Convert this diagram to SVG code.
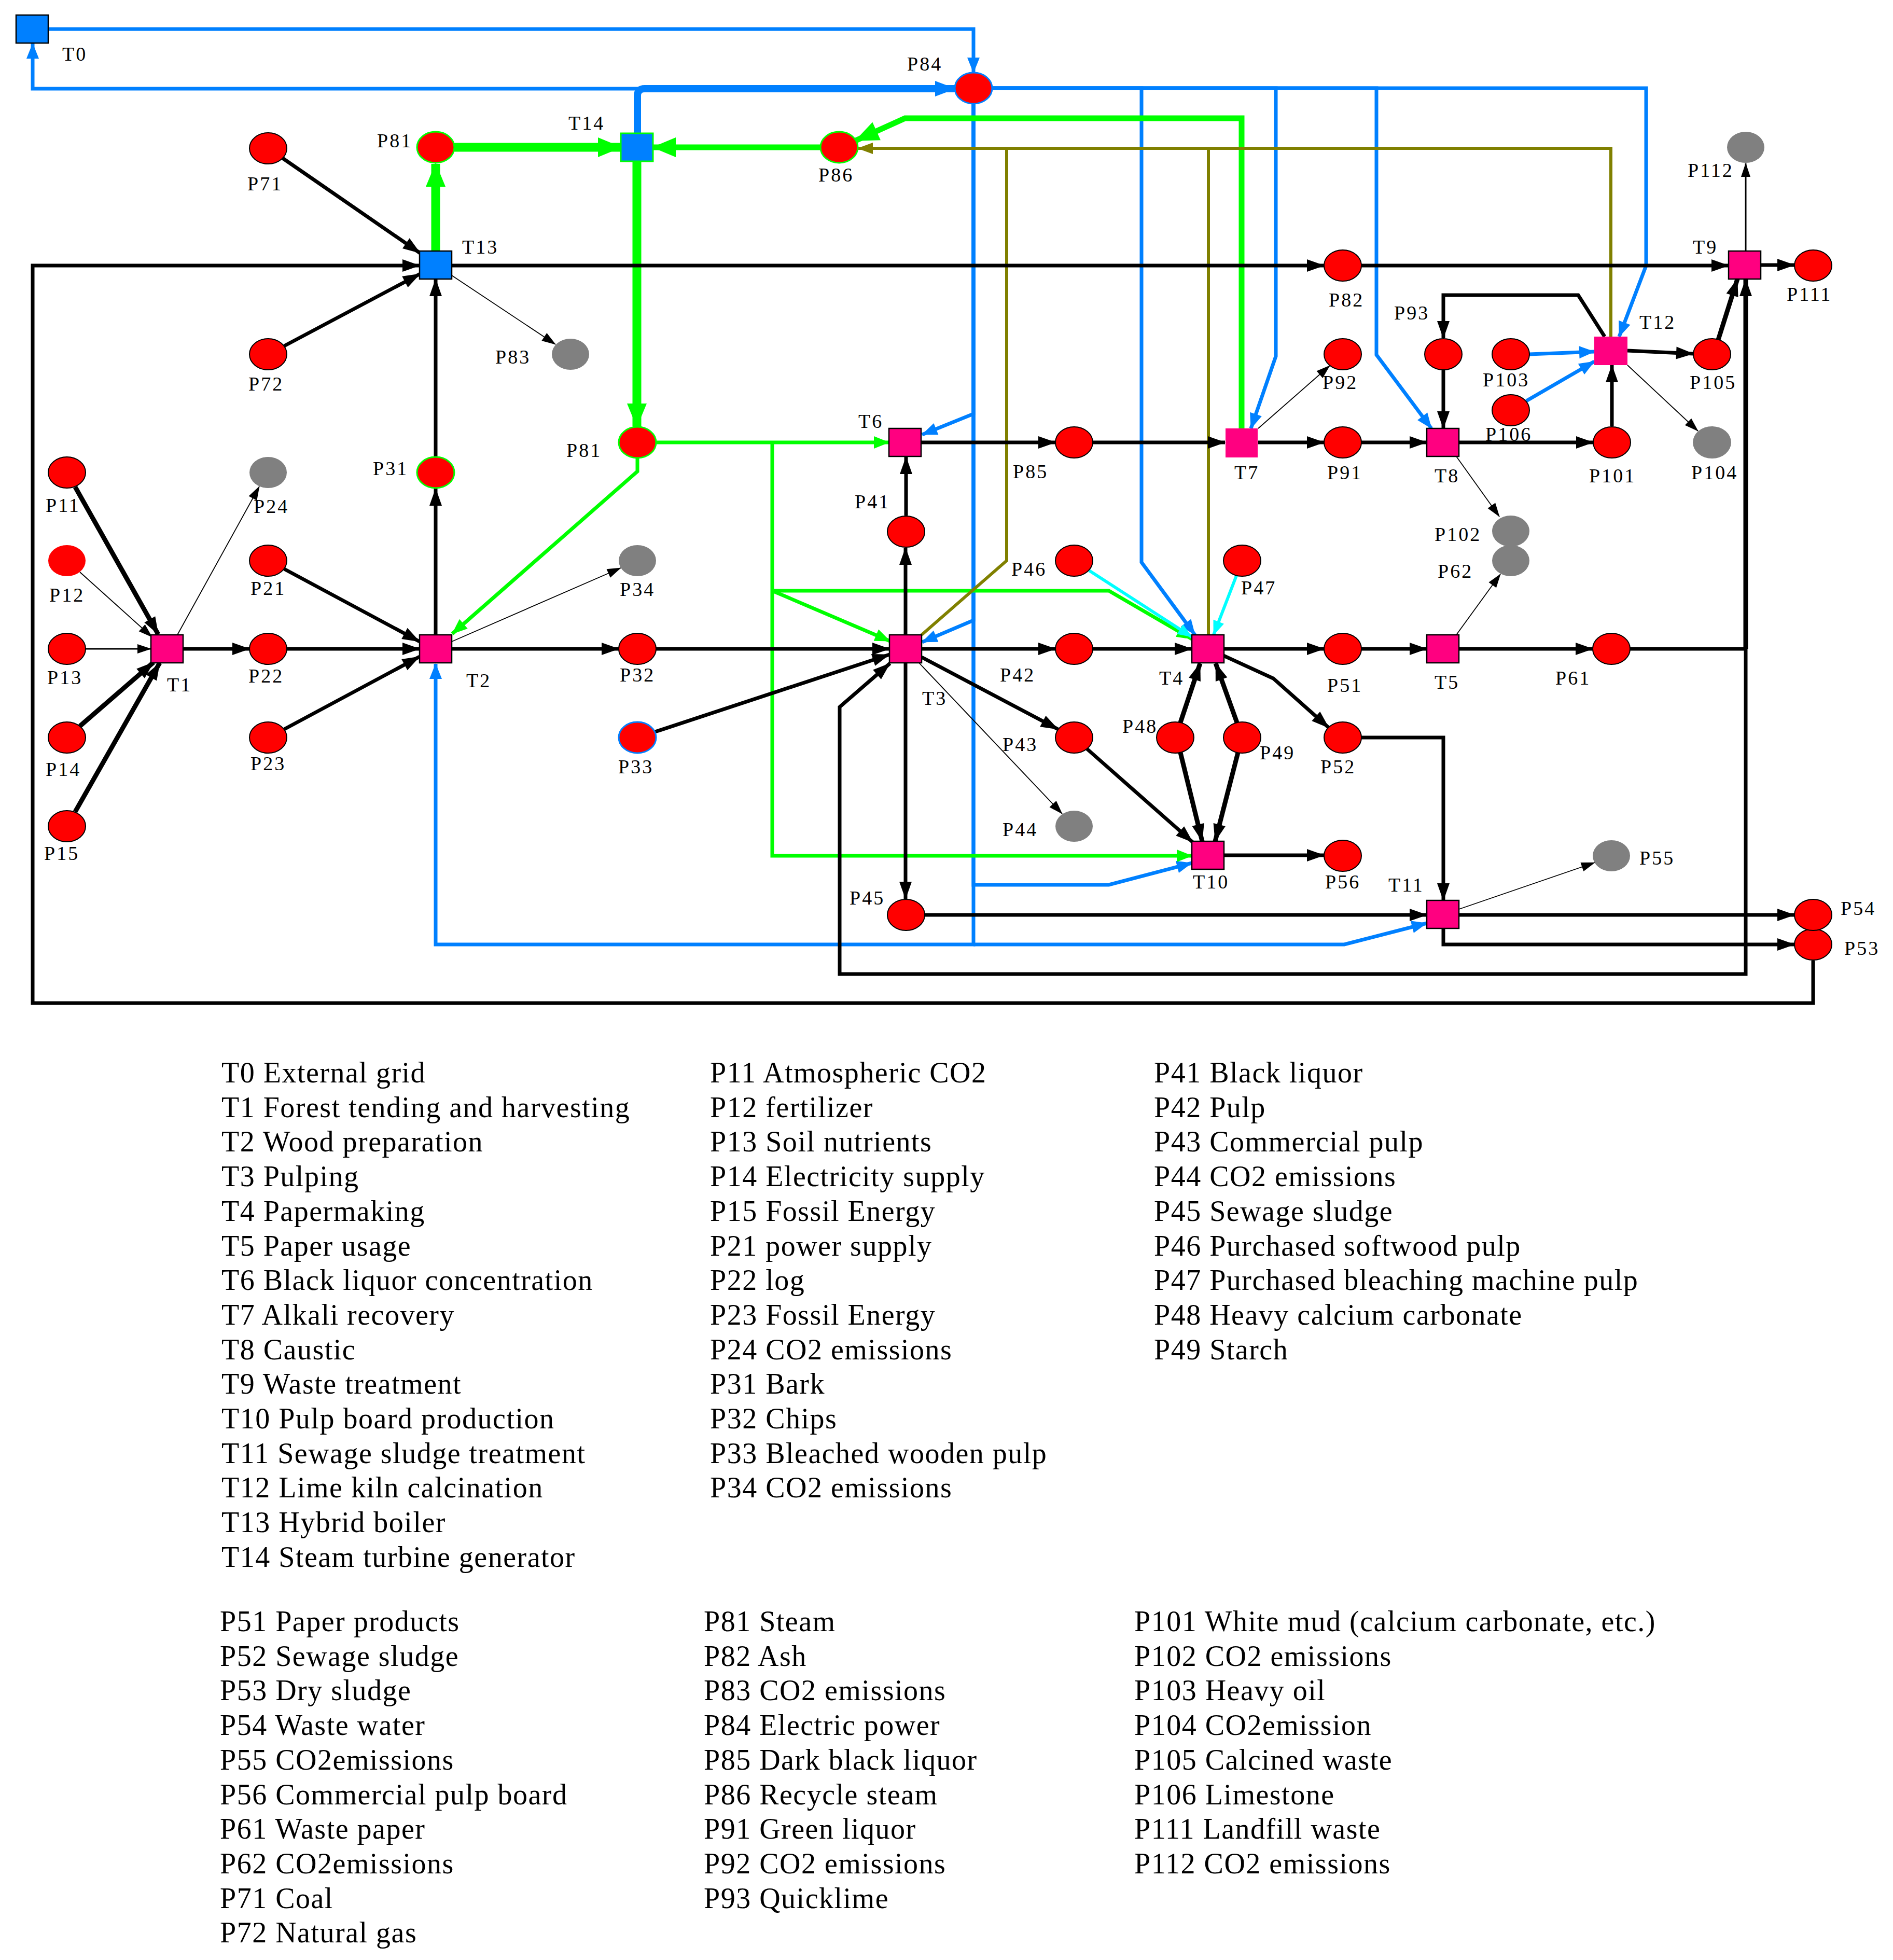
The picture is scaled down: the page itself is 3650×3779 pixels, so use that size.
<svg xmlns="http://www.w3.org/2000/svg" width="3650" height="3779" viewBox="0 0 3650 3779">
<style>
path{fill:none}
.k{stroke:#000;stroke-width:7}
.kT{stroke:#000;stroke-width:9}
.kt{stroke:#000;stroke-width:3}
.kth{stroke:#000;stroke-width:1.8}
.b{stroke:#0080FF;stroke-width:7}
.bT{stroke:#0080FF;stroke-width:14}
.g{stroke:#00FF00;stroke-width:7}
.gM{stroke:#00FF00;stroke-width:11}
.gT{stroke:#00FF00;stroke-width:17}
.o{stroke:#808000;stroke-width:6}
.c{stroke:#00FFFF;stroke-width:6}
.fk{fill:#000}.fb{fill:#0080FF}.fg{fill:#00FF00}.fo{fill:#808000}.fc{fill:#00FFFF}
.pl{fill:#FF0000;stroke:#000;stroke-width:2}
.gr{fill:#808080}
.tr{fill:#FF0080;stroke:#000;stroke-width:2.5}
.tn{fill:#FF0080}
.tb{fill:#0080FF;stroke:#000;stroke-width:2.5}
.lb{font-family:"Liberation Serif",serif;font-size:38px;letter-spacing:3px;fill:#000}
.lg{font-family:"Liberation Serif",serif;font-size:56px;letter-spacing:1.5px;fill:#000}
</style>
<defs>
<marker id="mk" markerUnits="userSpaceOnUse" markerWidth="36" markerHeight="26" refX="33" refY="12" orient="auto" overflow="visible"><path class="fk" d="M0,0 L34,12 L0,24 z"/></marker>
<marker id="ms" markerUnits="userSpaceOnUse" markerWidth="28" markerHeight="20" refX="26" refY="9" orient="auto" overflow="visible"><path class="fk" d="M0,0 L27,9 L0,18 z"/></marker>
<marker id="mb" markerUnits="userSpaceOnUse" markerWidth="32" markerHeight="26" refX="29" refY="12" orient="auto" overflow="visible"><path class="fb" d="M0,0 L30,12 L0,24 z"/></marker>
<marker id="mbT" markerUnits="userSpaceOnUse" markerWidth="42" markerHeight="32" refX="38" refY="15" orient="auto" overflow="visible"><path class="fb" d="M0,0 L40,15 L0,30 z"/></marker>
<marker id="mg" markerUnits="userSpaceOnUse" markerWidth="32" markerHeight="26" refX="29" refY="12" orient="auto" overflow="visible"><path class="fg" d="M0,0 L30,12 L0,24 z"/></marker>
<marker id="mgT" markerUnits="userSpaceOnUse" markerWidth="48" markerHeight="40" refX="44" refY="19" orient="auto" overflow="visible"><path class="fg" d="M0,0 L46,19 L0,38 z"/></marker>
<marker id="mo" markerUnits="userSpaceOnUse" markerWidth="32" markerHeight="24" refX="29" refY="11" orient="auto" overflow="visible"><path class="fo" d="M0,0 L30,11 L0,22 z"/></marker>
<marker id="mc" markerUnits="userSpaceOnUse" markerWidth="30" markerHeight="24" refX="27" refY="11" orient="auto" overflow="visible"><path class="fc" d="M0,0 L28,11 L0,22 z"/></marker>
</defs>
<rect width="3650" height="3779" fill="#fff"/>
<g id="connectors">
<path class="b" d="M93,56 H1877 V140" marker-end="url(#mb)"/>
<path class="b" d="M1841,171 H63 V84" marker-end="url(#mb)"/>
<path class="bT" d="M1229,257 V185 Q1229,171 1243,171 H1841" marker-end="url(#mbT)"/>
<path class="b" d="M1877,201 V798 L1778,838" marker-end="url(#mb)"/>
<path class="b" d="M1877,201 V1196 L1778,1238" marker-end="url(#mb)"/>
<path class="b" d="M1877,201 V1706 H2138 L2298,1664" marker-end="url(#mb)"/>
<path class="b" d="M1877,201 V1821 H840 V1280" marker-end="url(#mb)"/>
<path class="b" d="M1877,1821 H2592 L2751,1780" marker-end="url(#mb)"/>
<path class="b" d="M1913,170 H2201 V1084 L2304,1224" marker-end="url(#mb)"/>
<path class="b" d="M1913,170 H2460 V687 L2412,826" marker-end="url(#mb)"/>
<path class="b" d="M1913,170 H2654 V684 L2760,826" marker-end="url(#mb)"/>
<path class="b" d="M1913,170 H3174 V512 L3122,649" marker-end="url(#mb)"/>
<path class="b" d="M2949,683 L3074,678" marker-end="url(#mb)"/>
<path class="b" d="M2943,773 L3074,697" marker-end="url(#mb)"/>
<path class="gT" d="M840,484 V316" marker-end="url(#mgT)"/>
<path class="gT" d="M876,284 H1197" marker-end="url(#mgT)"/>
<path class="gM" d="M1582,284 H1259" marker-end="url(#mgT)"/>
<path class="gT" d="M1228,311 V822" marker-end="url(#mgT)"/>
<path class="g" d="M1265,853 H1714" marker-end="url(#mg)"/>
<path class="g" d="M1229,883 V909 L872,1222" marker-end="url(#mg)"/>
<path class="g" d="M1489,853 V1650 H2298" marker-end="url(#mg)"/>
<path class="g" d="M1489,1139 L1716,1236" marker-end="url(#mg)"/>
<path class="g" d="M1489,1139 H2138 L2298,1232" marker-end="url(#mg)"/>
<path class="gM" d="M2394,826 V228 H1745 L1650,271" marker-end="url(#mgT)"/>
<path class="o" d="M3106,649 V286 H1654" marker-end="url(#mo)"/>
<path class="o" d="M1777,1224 L1941,1081 V286"/>
<path class="o" d="M2330,1224 V286"/>
<path class="c" d="M2100,1100 L2298,1228" marker-end="url(#mc)"/>
<path class="c" d="M2384,1110 L2340,1224" marker-end="url(#mc)"/>
<path class="k" d="M545,305 L810,488" marker-end="url(#mk)"/>
<path class="k" d="M548,667 L810,528" marker-end="url(#mk)"/>
<path class="k" d="M3496,1852 V1934 H63 V512 H809" marker-end="url(#mk)"/>
<path class="k" d="M871,512 H2553" marker-end="url(#mk)"/>
<path class="k" d="M2625,512 H3333" marker-end="url(#mk)"/>
<path class="kth" d="M871,531 L1071,664" marker-end="url(#ms)"/>
<path class="k" d="M840,1224 V942" marker-end="url(#mk)"/>
<path class="k" d="M840,880 V538" marker-end="url(#mk)"/>
<path class="kT" d="M145,939 L305,1223" marker-end="url(#mk)"/>
<path class="kth" d="M154,1103 L293,1228" marker-end="url(#ms)"/>
<path class="kt" d="M165,1251 H291" marker-end="url(#ms)"/>
<path class="kT" d="M154,1400 L296,1277" marker-end="url(#mk)"/>
<path class="kT" d="M145,1565 L308,1278" marker-end="url(#mk)"/>
<path class="kth" d="M342,1224 L500,938" marker-end="url(#ms)"/>
<path class="k" d="M353,1251 H481" marker-end="url(#mk)"/>
<path class="k" d="M553,1251 H809" marker-end="url(#mk)"/>
<path class="k" d="M548,1097 L809,1237" marker-end="url(#mk)"/>
<path class="k" d="M548,1406 L809,1266" marker-end="url(#mk)"/>
<path class="kth" d="M871,1237 L1197,1095" marker-end="url(#ms)"/>
<path class="k" d="M871,1251 H1193" marker-end="url(#mk)"/>
<path class="k" d="M1265,1251 H1715" marker-end="url(#mk)"/>
<path class="k" d="M1263,1411 L1715,1262" marker-end="url(#mk)"/>
<path class="k" d="M3143,1251 H3366 V1878 H1619 V1363 L1716,1279" marker-end="url(#mk)"/>
<path class="kT" d="M3366,1251 V538" marker-end="url(#mk)"/>
<path class="k" d="M1746,1224 V1056" marker-end="url(#mk)"/>
<path class="k" d="M1747,994 V881" marker-end="url(#mk)"/>
<path class="k" d="M1777,1251 H2035" marker-end="url(#mk)"/>
<path class="k" d="M2107,1251 H2298" marker-end="url(#mk)"/>
<path class="k" d="M1777,1267 L2040,1406" marker-end="url(#mk)"/>
<path class="kth" d="M1772,1278 L2048,1569" marker-end="url(#ms)"/>
<path class="k" d="M1746,1278 V1733" marker-end="url(#mk)"/>
<path class="k" d="M1783,1764 H2751" marker-end="url(#mk)"/>
<path class="k" d="M2096,1444 L2300,1624" marker-end="url(#mk)"/>
<path class="kT" d="M2276,1393 L2314,1279" marker-end="url(#mk)"/>
<path class="kT" d="M2385,1393 L2344,1279" marker-end="url(#mk)"/>
<path class="kT" d="M2276,1451 L2318,1622" marker-end="url(#mk)"/>
<path class="kT" d="M2387,1451 L2343,1622" marker-end="url(#mk)"/>
<path class="k" d="M2359,1251 H2553" marker-end="url(#mk)"/>
<path class="k" d="M2625,1251 H2751" marker-end="url(#mk)"/>
<path class="k" d="M2813,1251 H3071" marker-end="url(#mk)"/>
<path class="k" d="M2359,1264 L2455,1308 L2562,1403" marker-end="url(#mk)"/>
<path class="k" d="M2625,1422 H2783 V1736" marker-end="url(#mk)"/>
<path class="k" d="M2359,1649 H2553" marker-end="url(#mk)"/>
<path class="kth" d="M2813,1753 L3075,1663" marker-end="url(#ms)"/>
<path class="k" d="M2813,1764 H3460" marker-end="url(#mk)"/>
<path class="k" d="M2783,1789 V1821 H3460" marker-end="url(#mk)"/>
<path class="kth" d="M2808,1224 L2893,1107" marker-end="url(#ms)"/>
<path class="kth" d="M2808,880 L2891,996" marker-end="url(#ms)"/>
<path class="k" d="M1777,853 H2035" marker-end="url(#mk)"/>
<path class="k" d="M2107,853 H2362" marker-end="url(#mk)"/>
<path class="k" d="M2426,853 H2553" marker-end="url(#mk)"/>
<path class="k" d="M2625,853 H2751" marker-end="url(#mk)"/>
<path class="kth" d="M2426,826 L2564,705" marker-end="url(#ms)"/>
<path class="k" d="M3094,649 L3043,569 H2783 V652" marker-end="url(#mk)"/>
<path class="k" d="M2783,714 V826" marker-end="url(#mk)"/>
<path class="k" d="M2813,853 H3072" marker-end="url(#mk)"/>
<path class="k" d="M3108,822 V704" marker-end="url(#mk)"/>
<path class="k" d="M3138,676 L3265,682" marker-end="url(#mk)"/>
<path class="kT" d="M3313,655 L3350,538" marker-end="url(#mk)"/>
<path class="k" d="M3395,511 H3460" marker-end="url(#mk)"/>
<path class="kt" d="M3366,484 V315" marker-end="url(#ms)"/>
<path class="kth" d="M3138,704 L3274,831" marker-end="url(#ms)"/>
</g>
<g id="T0"><rect class="tb" x="31" y="29" width="62" height="54"/><text class="lb" x="120" y="117">T0</text></g>
<g id="T1"><rect class="tr" x="291" y="1224" width="62" height="54"/><text class="lb" x="322" y="1333">T1</text></g>
<g id="T2"><rect class="tr" x="809" y="1224" width="62" height="54"/><text class="lb" x="899" y="1325">T2</text></g>
<g id="T3"><rect class="tr" x="1715" y="1224" width="62" height="54"/><text class="lb" x="1778" y="1359">T3</text></g>
<g id="T4"><rect class="tr" x="2298" y="1224" width="62" height="54"/><text class="lb" x="2235" y="1320">T4</text></g>
<g id="T5"><rect class="tr" x="2751" y="1224" width="62" height="54"/><text class="lb" x="2766" y="1328">T5</text></g>
<g id="T6"><rect class="tr" x="1714" y="826" width="62" height="54"/><text class="lb" x="1655" y="825">T6</text></g>
<g id="T7"><rect class="tn" x="2363" y="826" width="62" height="56"/><text class="lb" x="2380" y="924">T7</text></g>
<g id="T8"><rect class="tr" x="2751" y="826" width="62" height="54"/><text class="lb" x="2766" y="930">T8</text></g>
<g id="T9"><rect class="tr" x="3333" y="484" width="62" height="54"/><text class="lb" x="3264" y="489">T9</text></g>
<g id="T10"><rect class="tr" x="2298" y="1622" width="62" height="54"/><text class="lb" x="2300" y="1713">T10</text></g>
<g id="T11"><rect class="tr" x="2751" y="1736" width="62" height="54"/><text class="lb" x="2677" y="1719">T11</text></g>
<g id="T12"><rect class="tn" x="3074" y="649" width="64" height="55"/><text class="lb" x="3161" y="634">T12</text></g>
<g id="T13"><rect class="tb" x="809" y="484" width="62" height="54"/><text class="lb" x="891" y="489">T13</text></g>
<g id="T14"><rect x="1197" y="257" width="62" height="54" fill="#0080FF" stroke="#00FF00" stroke-width="3"/><text class="lb" x="1096" y="250">T14</text></g>
<g id="P11"><ellipse class="pl" cx="129" cy="911" rx="36" ry="30"/><text class="lb" x="88" y="987">P11</text></g>
<g id="P12"><ellipse cx="129" cy="1081" rx="36" ry="30" fill="#FF0000"/><text class="lb" x="95" y="1160">P12</text></g>
<g id="P13"><ellipse class="pl" cx="129" cy="1251" rx="36" ry="30"/><text class="lb" x="91" y="1319">P13</text></g>
<g id="P14"><ellipse class="pl" cx="129" cy="1422" rx="36" ry="30"/><text class="lb" x="88" y="1496">P14</text></g>
<g id="P15"><ellipse class="pl" cx="129" cy="1593" rx="36" ry="30"/><text class="lb" x="85" y="1658">P15</text></g>
<g id="P21"><ellipse class="pl" cx="517" cy="1081" rx="36" ry="30"/><text class="lb" x="483" y="1147">P21</text></g>
<g id="P22"><ellipse class="pl" cx="517" cy="1251" rx="36" ry="30"/><text class="lb" x="479" y="1316">P22</text></g>
<g id="P23"><ellipse class="pl" cx="517" cy="1422" rx="36" ry="30"/><text class="lb" x="483" y="1485">P23</text></g>
<g id="P24"><ellipse class="gr" cx="517" cy="911" rx="36" ry="30"/><text class="lb" x="489" y="989">P24</text></g>
<g id="P31"><ellipse cx="840" cy="911" rx="36" ry="30" fill="#FF0000" stroke="#00FF00" stroke-width="3"/><text class="lb" x="719" y="916">P31</text></g>
<g id="P32"><ellipse class="pl" cx="1229" cy="1251" rx="36" ry="30"/><text class="lb" x="1195" y="1314">P32</text></g>
<g id="P33"><ellipse cx="1229" cy="1422" rx="36" ry="30" fill="#FF0000" stroke="#0080FF" stroke-width="3"/><text class="lb" x="1192" y="1491">P33</text></g>
<g id="P34"><ellipse class="gr" cx="1229" cy="1081" rx="36" ry="30"/><text class="lb" x="1195" y="1149">P34</text></g>
<g id="P41"><ellipse class="pl" cx="1747" cy="1025" rx="36" ry="30"/><text class="lb" x="1648" y="980">P41</text></g>
<g id="P42"><ellipse class="pl" cx="2071" cy="1251" rx="36" ry="30"/><text class="lb" x="1928" y="1314">P42</text></g>
<g id="P43"><ellipse class="pl" cx="2071" cy="1422" rx="36" ry="30"/><text class="lb" x="1933" y="1448">P43</text></g>
<g id="P44"><ellipse class="gr" cx="2071" cy="1593" rx="36" ry="30"/><text class="lb" x="1933" y="1612">P44</text></g>
<g id="P45"><ellipse class="pl" cx="1747" cy="1764" rx="36" ry="30"/><text class="lb" x="1638" y="1744">P45</text></g>
<g id="P46"><ellipse class="pl" cx="2071" cy="1081" rx="36" ry="30"/><text class="lb" x="1950" y="1110">P46</text></g>
<g id="P47"><ellipse class="pl" cx="2395" cy="1081" rx="36" ry="30"/><text class="lb" x="2393" y="1146">P47</text></g>
<g id="P48"><ellipse class="pl" cx="2266" cy="1422" rx="36" ry="30"/><text class="lb" x="2164" y="1413">P48</text></g>
<g id="P49"><ellipse class="pl" cx="2395" cy="1422" rx="36" ry="30"/><text class="lb" x="2429" y="1464">P49</text></g>
<g id="P51"><ellipse class="pl" cx="2589" cy="1251" rx="36" ry="30"/><text class="lb" x="2559" y="1334">P51</text></g>
<g id="P52"><ellipse class="pl" cx="2589" cy="1422" rx="36" ry="30"/><text class="lb" x="2546" y="1491">P52</text></g>
<g id="P53"><ellipse class="pl" cx="3496" cy="1821" rx="36" ry="30"/><text class="lb" x="3556" y="1841">P53</text></g>
<g id="P54"><ellipse class="pl" cx="3496" cy="1764" rx="36" ry="30"/><text class="lb" x="3549" y="1764">P54</text></g>
<g id="P55"><ellipse class="gr" cx="3107" cy="1650" rx="36" ry="30"/><text class="lb" x="3161" y="1667">P55</text></g>
<g id="P56"><ellipse class="pl" cx="2589" cy="1650" rx="36" ry="30"/><text class="lb" x="2555" y="1713">P56</text></g>
<g id="P61"><ellipse class="pl" cx="3107" cy="1251" rx="36" ry="30"/><text class="lb" x="2999" y="1320">P61</text></g>
<g id="P62"><ellipse class="gr" cx="2913" cy="1081" rx="36" ry="30"/><text class="lb" x="2772" y="1114">P62</text></g>
<g id="P71"><ellipse class="pl" cx="517" cy="286" rx="36" ry="30"/><text class="lb" x="477" y="367">P71</text></g>
<g id="P72"><ellipse class="pl" cx="517" cy="683" rx="36" ry="30"/><text class="lb" x="479" y="753">P72</text></g>
<g id="P81a"><ellipse cx="840" cy="284" rx="36" ry="30" fill="#FF0000" stroke="#00FF00" stroke-width="3"/><text class="lb" x="727" y="284">P81</text></g>
<g id="P81b"><ellipse cx="1229" cy="853" rx="36" ry="30" fill="#FF0000" stroke="#00FF00" stroke-width="3"/><text class="lb" x="1092" y="881">P81</text></g>
<g id="P82"><ellipse class="pl" cx="2589" cy="512" rx="36" ry="30"/><text class="lb" x="2562" y="591">P82</text></g>
<g id="P83"><ellipse class="gr" cx="1100" cy="683" rx="36" ry="30"/><text class="lb" x="955" y="701">P83</text></g>
<g id="P84"><ellipse cx="1877" cy="170" rx="36" ry="30" fill="#FF0000" stroke="#0080FF" stroke-width="3"/><text class="lb" x="1749" y="136">P84</text></g>
<g id="P85"><ellipse class="pl" cx="2071" cy="853" rx="36" ry="30"/><text class="lb" x="1953" y="922">P85</text></g>
<g id="P86"><ellipse cx="1618" cy="284" rx="36" ry="30" fill="#FF0000" stroke="#00FF00" stroke-width="3"/><text class="lb" x="1578" y="350">P86</text></g>
<g id="P91"><ellipse class="pl" cx="2589" cy="853" rx="36" ry="30"/><text class="lb" x="2559" y="924">P91</text></g>
<g id="P92"><ellipse class="pl" cx="2589" cy="683" rx="36" ry="30"/><text class="lb" x="2550" y="750">P92</text></g>
<g id="P93"><ellipse class="pl" cx="2783" cy="683" rx="36" ry="30"/><text class="lb" x="2688" y="616">P93</text></g>
<g id="P101"><ellipse class="pl" cx="3108" cy="853" rx="36" ry="30"/><text class="lb" x="3064" y="930">P101</text></g>
<g id="P102"><ellipse class="gr" cx="2913" cy="1024" rx="36" ry="30"/><text class="lb" x="2766" y="1043">P102</text></g>
<g id="P103"><ellipse class="pl" cx="2913" cy="683" rx="36" ry="30"/><text class="lb" x="2859" y="745">P103</text></g>
<g id="P104"><ellipse class="gr" cx="3301" cy="853" rx="37" ry="31"/><text class="lb" x="3261" y="924">P104</text></g>
<g id="P105"><ellipse class="pl" cx="3301" cy="683" rx="36" ry="30"/><text class="lb" x="3258" y="750">P105</text></g>
<g id="P106"><ellipse class="pl" cx="2913" cy="791" rx="36" ry="30"/><text class="lb" x="2864" y="850">P106</text></g>
<g id="P111"><ellipse class="pl" cx="3496" cy="512" rx="36" ry="30"/><text class="lb" x="3445" y="580">P111</text></g>
<g id="P112"><ellipse class="gr" cx="3366" cy="284" rx="36" ry="30"/><text class="lb" x="3254" y="341">P112</text></g>
<g id="legend">
<text class="lg" x="427" y="2087"><tspan x="427">T0 External grid</tspan><tspan x="427" dy="66.7">T1 Forest tending and harvesting</tspan><tspan x="427" dy="66.7">T2 Wood preparation</tspan><tspan x="427" dy="66.7">T3 Pulping</tspan><tspan x="427" dy="66.7">T4 Papermaking</tspan><tspan x="427" dy="66.7">T5 Paper usage</tspan><tspan x="427" dy="66.7">T6 Black liquor concentration</tspan><tspan x="427" dy="66.7">T7 Alkali recovery</tspan><tspan x="427" dy="66.7">T8 Caustic</tspan><tspan x="427" dy="66.7">T9 Waste treatment</tspan><tspan x="427" dy="66.7">T10 Pulp board production</tspan><tspan x="427" dy="66.7">T11 Sewage sludge treatment</tspan><tspan x="427" dy="66.7">T12 Lime kiln calcination</tspan><tspan x="427" dy="66.7">T13 Hybrid boiler</tspan><tspan x="427" dy="66.7">T14 Steam turbine generator</tspan></text>
<text class="lg" x="1369" y="2087"><tspan x="1369">P11 Atmospheric CO2</tspan><tspan x="1369" dy="66.7">P12 fertilizer</tspan><tspan x="1369" dy="66.7">P13 Soil nutrients</tspan><tspan x="1369" dy="66.7">P14 Electricity supply</tspan><tspan x="1369" dy="66.7">P15 Fossil Energy</tspan><tspan x="1369" dy="66.7">P21 power supply</tspan><tspan x="1369" dy="66.7">P22 log</tspan><tspan x="1369" dy="66.7">P23 Fossil Energy</tspan><tspan x="1369" dy="66.7">P24 CO2 emissions</tspan><tspan x="1369" dy="66.7">P31 Bark</tspan><tspan x="1369" dy="66.7">P32 Chips</tspan><tspan x="1369" dy="66.7">P33 Bleached wooden pulp</tspan><tspan x="1369" dy="66.7">P34 CO2 emissions</tspan></text>
<text class="lg" x="2225" y="2087"><tspan x="2225">P41 Black liquor</tspan><tspan x="2225" dy="66.7">P42 Pulp</tspan><tspan x="2225" dy="66.7">P43 Commercial pulp</tspan><tspan x="2225" dy="66.7">P44 CO2 emissions</tspan><tspan x="2225" dy="66.7">P45 Sewage sludge</tspan><tspan x="2225" dy="66.7">P46 Purchased softwood pulp</tspan><tspan x="2225" dy="66.7">P47 Purchased bleaching machine pulp</tspan><tspan x="2225" dy="66.7">P48 Heavy calcium carbonate</tspan><tspan x="2225" dy="66.7">P49 Starch</tspan></text>
<text class="lg" x="424" y="3145"><tspan x="424">P51 Paper products</tspan><tspan x="424" dy="66.7">P52 Sewage sludge</tspan><tspan x="424" dy="66.7">P53 Dry sludge</tspan><tspan x="424" dy="66.7">P54 Waste water</tspan><tspan x="424" dy="66.7">P55 CO2emissions</tspan><tspan x="424" dy="66.7">P56 Commercial pulp board</tspan><tspan x="424" dy="66.7">P61 Waste paper</tspan><tspan x="424" dy="66.7">P62 CO2emissions</tspan><tspan x="424" dy="66.7">P71 Coal</tspan><tspan x="424" dy="66.7">P72 Natural gas</tspan></text>
<text class="lg" x="1357" y="3145"><tspan x="1357">P81 Steam</tspan><tspan x="1357" dy="66.7">P82 Ash</tspan><tspan x="1357" dy="66.7">P83 CO2 emissions</tspan><tspan x="1357" dy="66.7">P84 Electric power</tspan><tspan x="1357" dy="66.7">P85 Dark black liquor</tspan><tspan x="1357" dy="66.7">P86 Recycle steam</tspan><tspan x="1357" dy="66.7">P91 Green liquor</tspan><tspan x="1357" dy="66.7">P92 CO2 emissions</tspan><tspan x="1357" dy="66.7">P93 Quicklime</tspan></text>
<text class="lg" x="2187" y="3145"><tspan x="2187">P101 White mud (calcium carbonate, etc.)</tspan><tspan x="2187" dy="66.7">P102 CO2 emissions</tspan><tspan x="2187" dy="66.7">P103 Heavy oil</tspan><tspan x="2187" dy="66.7">P104 CO2emission</tspan><tspan x="2187" dy="66.7">P105 Calcined waste</tspan><tspan x="2187" dy="66.7">P106 Limestone</tspan><tspan x="2187" dy="66.7">P111 Landfill waste</tspan><tspan x="2187" dy="66.7">P112 CO2 emissions</tspan></text>
</g>
</svg>
